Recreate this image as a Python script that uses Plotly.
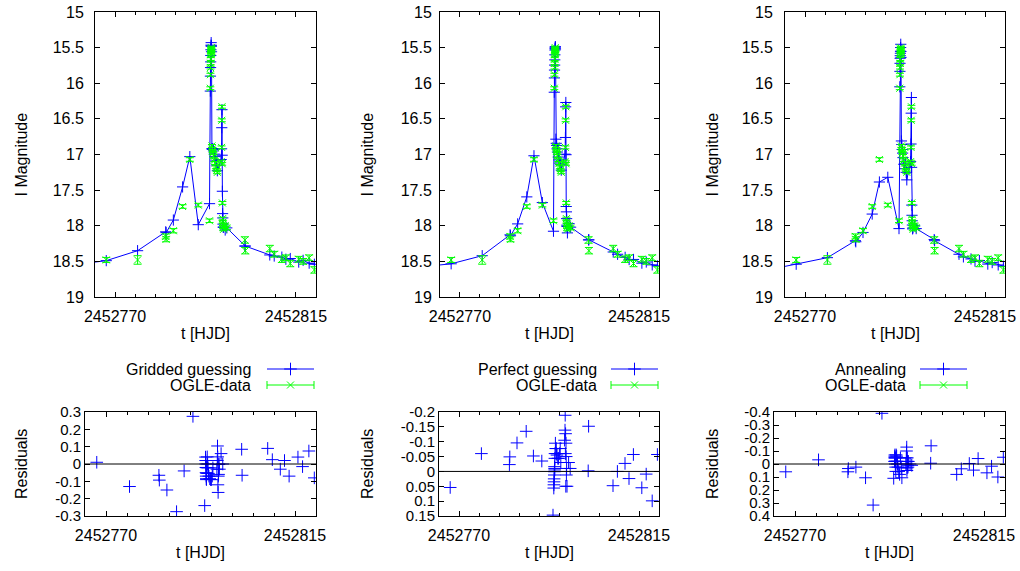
import plotly.graph_objects as go

# ---------------- data ----------------
hjd = [2452767.8, 2452775.6, 2452782.6, 2452782.7, 2452784.5, 2452786.8, 2452788.6, 2452790.7, 2452793.5,
       2452793.70, 2452793.73, 2452793.76, 2452793.79, 2452793.82, 2452793.85, 2452793.88, 2452793.91,
       2452793.94, 2452793.97, 2452794.00,
       2452794.10, 2452794.20, 2452794.30, 2452794.40, 2452794.50, 2452794.70, 2452794.90, 2452795.10,
       2452795.30, 2452795.45,
       2452796.40, 2452796.50, 2452796.55, 2452796.60, 2452796.65, 2452796.70, 2452796.75, 2452796.80,
       2452796.85, 2452796.90, 2452797.00,
       2452797.40, 2452797.80,
       2452802.3, 2452802.4, 2452808.5, 2452809.6, 2452811.5, 2452812.5, 2452813.6, 2452815.7,
       2452816.8, 2452818.3, 2452819.6]
mag = [18.48, 18.48, 18.15, 18.19, 18.07, 17.73, 17.07, 17.71, 17.93,
       16.07, 15.88, 15.78, 15.72, 15.66, 15.60, 15.55, 15.52, 15.50, 15.53, 15.58,
       16.88, 16.92, 16.95, 16.98, 17.02, 17.08, 17.12, 17.18, 17.22, 17.25,
       17.10, 16.90, 16.52, 16.33, 17.13, 17.68, 17.90, 17.95, 17.98, 18.02, 18.05,
       18.00, 18.03,
       18.20, 18.35, 18.32, 18.40, 18.47, 18.45, 18.53, 18.47, 18.50, 18.45, 18.62]
mag_err = [0.035, 0.06, 0.035, 0.035, 0.03, 0.025, 0.025, 0.025, 0.025,
           0.02, 0.02, 0.02, 0.02, 0.02, 0.02, 0.02, 0.02, 0.02, 0.02, 0.02,
           0.02, 0.02, 0.02, 0.02, 0.02, 0.02, 0.02, 0.02, 0.02, 0.02,
           0.02, 0.02, 0.02, 0.02, 0.02, 0.02, 0.02, 0.02, 0.02, 0.02, 0.02,
           0.025, 0.025,
           0.045, 0.045, 0.045, 0.04, 0.045, 0.04, 0.045, 0.04, 0.04, 0.04, 0.045]

# residuals = model - data
res_gridded = [0.01, -0.13, -0.065, -0.093, -0.15, -0.275, -0.04, 0.275, -0.24,
               0.04, 0.02, 0.0, -0.02, -0.05, -0.07, -0.085, -0.09, -0.02, -0.054, -0.022,
               0.041, 0.0, -0.022, -0.054, -0.07, -0.085, -0.09, -0.09, -0.07, -0.022,
               -0.03, 0.02, 0.104, 0.041, -0.12, -0.164, -0.07, -0.06, -0.003, 0.0, -0.03,
               0.06, 0.0,
               0.085, -0.065, 0.09, 0.025, -0.03, 0.02, -0.07, 0.04, -0.015, 0.075, -0.08]
res_perfect = [0.054, -0.06, -0.023, -0.049, -0.096, -0.135, -0.052, -0.035, 0.147,
               0.056, 0.045, 0.035, 0.025, 0.012, 0.001, -0.016, -0.01, -0.005, -0.044, -0.06,
               -0.095, -0.077, -0.077, -0.06, -0.055, -0.044, -0.044, -0.06, -0.077, -0.03,
               -0.105, -0.139, -0.189, -0.06, -0.127, 0.05, -0.095, -0.05, 0.012, -0.01, 0.05,
               -0.03, -0.01,
               -0.002, -0.152, 0.048, 0.0, -0.027, 0.024, -0.057, 0.055, 0.009, 0.099, -0.057]
res_annealing = [0.06, -0.032, 0.06, 0.035, 0.024, 0.106, 0.316, -0.39, 0.11,
                 -0.02, -0.047, -0.06, -0.07, -0.047, -0.021, 0.0, -0.021, -0.047, 0.024, 0.057,
                 -0.07, -0.06, -0.021, 0.0, 0.024, 0.057, 0.08, -0.047, 0.03, 0.106,
                 0.0, -0.047, -0.10, -0.13, 0.05, 0.03, -0.047, -0.02, 0.01, 0.024, -0.02,
                 0.0, 0.01,
                 -0.006, -0.14, 0.08, 0.037, -0.004, 0.047, -0.042, 0.068, 0.017, 0.1, -0.052]

# model value at the left border of the time range
hjd_start = 2452765.0
model_start = [18.51, 18.55, 18.57]

method_names = ["Gridded guessing", "Perfect guessing", "Annealing"]
residual_sets = [res_gridded, res_perfect, res_annealing]

x_range = [2452765.0, 2452820.0]
x_tickvals = [2452770, 2452815]
x_ticktext = ["2452770", "2452815"]
mag_tickvals = [15, 15.5, 16, 16.5, 17, 17.5, 18, 18.5, 19]
mag_ticktext = ["15", "15.5", "16", "16.5", "17", "17.5", "18", "18.5", "19"]
res_ticks = [
    ([-0.3, -0.2, -0.1, 0, 0.1, 0.2, 0.3], ["-0.3", "-0.2", "-0.1", "0", "0.1", "0.2", "0.3"], [-0.3, 0.3]),
    ([-0.2, -0.15, -0.1, -0.05, 0, 0.05, 0.1, 0.15],
     ["-0.2", "-0.15", "-0.1", "-0.05", "0", "0.05", "0.1", "0.15"], [0.15, -0.2]),
    ([-0.4, -0.3, -0.2, -0.1, 0, 0.1, 0.2, 0.3, 0.4],
     ["-0.4", "-0.3", "-0.2", "-0.1", "0", "0.1", "0.2", "0.3", "0.4"], [0.4, -0.4]),
]

# ---------------- layout geometry (screen pixels) ----------------
OFF = 0
W, H = 1020, 571
top_x = [(95, 316), (440, 659), (785, 1005)]
top_y = (12, 297)
bot_x = [(85, 316), (439, 659), (774, 1005)]
bot_y = (412, 516)
ytitle_x = [21, 367, 712]
top_label_gap = [7, 4, 8]
legend_text_right = [253, 599, 908]
legend_sample = [(267, 314), (611, 658), (920, 967)]
legend_rows = [369, 385]

BLUE = "#0000ff"
GREEN = "#00ff00"
FONT = "Liberation Sans, Arial, sans-serif"
FS = 16


def px(sx):
    return (sx - OFF) / W


def py(sy):
    return 1 - (sy - OFF) / H


def xd(a, b):
    return [px(a), px(b)]


def yd(top, bottom):
    return [py(bottom), py(top)]


def ax_id(n):
    return "" if n == 1 else str(n)


fig = go.Figure()

axis_common = dict(showline=True, linecolor="black", linewidth=1, mirror="allticks",
                   ticks="inside", ticklen=5, tickcolor="black", tickwidth=1,
                   showgrid=False, zeroline=False, automargin=False,
                   ticklabeloverflow="allow",
                   tickfont=dict(family=FONT, size=FS, color="black"))
minor_x = dict(dtick=5, tick0=2452765, ticks="inside", ticklen=3, tickcolor="black", showgrid=False)

layout = dict(template="none", width=W, height=H, margin=dict(l=0, r=0, t=0, b=0, pad=0),
              paper_bgcolor="white", plot_bgcolor="rgba(0,0,0,0)", showlegend=False,
              font=dict(family=FONT, size=FS, color="black"))
annotations = []
shapes = []

for i in range(3):
    res = residual_sets[i]
    model = [m + r for m, r in zip(mag, res)]
    nt = i + 1
    nb = i + 4
    xa_top, ya_top = "x" + ax_id(nt), "y" + ax_id(nt)
    xa_bot, ya_bot = "x" + ax_id(nb), "y" + ax_id(nb)

    # model line (with extension to the left border)
    fig.add_trace(go.Scatter(x=[hjd_start] + hjd, y=[model_start[i]] + model, mode="lines",
                             line=dict(color=BLUE, width=1), xaxis=xa_top, yaxis=ya_top,
                             hoverinfo="skip"))
    fig.add_trace(go.Scatter(x=hjd, y=model, mode="markers",
                             marker=dict(symbol="cross-thin", size=8, color=BLUE,
                                         line=dict(color=BLUE, width=1)),
                             xaxis=xa_top, yaxis=ya_top))
    # OGLE data
    fig.add_trace(go.Scatter(x=hjd, y=mag, mode="markers",
                             marker=dict(symbol="x-thin", size=7, color=GREEN,
                                         line=dict(color=GREEN, width=1)),
                             error_y=dict(type="data", array=mag_err, visible=True,
                                          color=GREEN, thickness=1, width=4),
                             xaxis=xa_top, yaxis=ya_top))
    # residuals
    fig.add_trace(go.Scatter(x=hjd, y=res, mode="markers",
                             marker=dict(symbol="cross-thin", size=9, color=BLUE,
                                         line=dict(color=BLUE, width=1)),
                             xaxis=xa_bot, yaxis=ya_bot))

    layout["xaxis" + ax_id(nt)] = dict(axis_common, domain=xd(*top_x[i]), range=x_range,
                                       tickvals=x_tickvals, ticktext=x_ticktext,
                                       minor=minor_x, anchor=ya_top, ticklabelstandoff=5)
    layout["yaxis" + ax_id(nt)] = dict(axis_common, domain=yd(*top_y), range=[19, 15],
                                       tickvals=mag_tickvals, ticktext=mag_ticktext,
                                       anchor=xa_top, ticklabelstandoff=top_label_gap[i])
    tv, tt, rr = res_ticks[i]
    layout["xaxis" + ax_id(nb)] = dict(axis_common, domain=xd(*bot_x[i]), range=x_range,
                                       tickvals=x_tickvals, ticktext=x_ticktext,
                                       minor=minor_x, anchor=ya_bot, ticklabelstandoff=5)
    layout["yaxis" + ax_id(nb)] = dict(axis_common, domain=yd(*bot_y), range=rr,
                                       tickvals=tv, ticktext=tt, anchor=xa_bot,
                                       tickfont=dict(family=FONT, size=FS - 1, color="black"))

    # zero line in residual plot
    shapes.append(dict(type="line", xref=f"{xa_bot} domain", x0=0, x1=1,
                       yref=ya_bot, y0=0, y1=0, line=dict(color="black", width=1)))

    # axis titles
    annotations.append(dict(text="I Magnitude", x=px(ytitle_x[i]), y=py(sum(top_y) / 2),
                            xref="paper", yref="paper", textangle=-90, showarrow=False,
                            xanchor="center", yanchor="middle", font=dict(size=FS)))
    annotations.append(dict(text="Residuals", x=px(ytitle_x[i]), y=py(sum(bot_y) / 2),
                            xref="paper", yref="paper", textangle=-90, showarrow=False,
                            xanchor="center", yanchor="middle", font=dict(size=FS)))
    annotations.append(dict(text="t [HJD]", x=px(sum(top_x[i]) / 2), y=py(333),
                            xref="paper", yref="paper", showarrow=False,
                            xanchor="center", yanchor="middle", font=dict(size=FS)))
    annotations.append(dict(text="t [HJD]", x=px(sum(bot_x[i]) / 2), y=py(552),
                            xref="paper", yref="paper", showarrow=False,
                            xanchor="center", yanchor="middle", font=dict(size=FS)))

    # legend (text left, sample right)
    for row, label in enumerate([method_names[i], "OGLE-data"]):
        annotations.append(dict(text=label, x=px(legend_text_right[i]), y=py(legend_rows[row]),
                                xref="paper", yref="paper", showarrow=False,
                                xanchor="right", yanchor="middle", font=dict(size=FS)))
    x0, x1 = legend_sample[i]
    ymid0, ymid1 = legend_rows
    shapes.append(dict(type="line", xref="x7", yref="y7", x0=x0, x1=x1, y0=ymid0, y1=ymid0,
                       line=dict(color=BLUE, width=1)))
    shapes.append(dict(type="line", xref="x7", yref="y7", x0=x0, x1=x1, y0=ymid1, y1=ymid1,
                       line=dict(color=GREEN, width=1)))
    for xc in (x0, x1):
        shapes.append(dict(type="line", xref="x7", yref="y7", x0=xc, x1=xc, y0=ymid1 - 4,
                           y1=ymid1 + 4, line=dict(color=GREEN, width=1)))
    fig.add_trace(go.Scatter(x=[(x0 + x1) / 2], y=[ymid0], mode="markers",
                             marker=dict(symbol="cross-thin", size=9, color=BLUE,
                                         line=dict(color=BLUE, width=1)),
                             xaxis="x7", yaxis="y7", cliponaxis=False))
    fig.add_trace(go.Scatter(x=[(x0 + x1) / 2], y=[ymid1], mode="markers",
                             marker=dict(symbol="x-thin", size=7, color=GREEN,
                                         line=dict(color=GREEN, width=1)),
                             xaxis="x7", yaxis="y7", cliponaxis=False))

# overlay axis in screen pixel units (legend samples)
layout["xaxis7"] = dict(domain=[0, 1], range=[OFF, OFF + W], visible=False, fixedrange=True,
                        anchor="y7", automargin=False)
layout["yaxis7"] = dict(domain=[0, 1], range=[OFF + H, OFF], visible=False, fixedrange=True,
                        anchor="x7", automargin=False)
layout["annotations"] = annotations
layout["shapes"] = shapes
fig.update_layout(**layout)

fig.write_html("out.html", config={"displayModeBar": False, "staticPlot": True},
               post_script="document.body.style.margin='0px'; document.body.style.overflow='hidden';")
